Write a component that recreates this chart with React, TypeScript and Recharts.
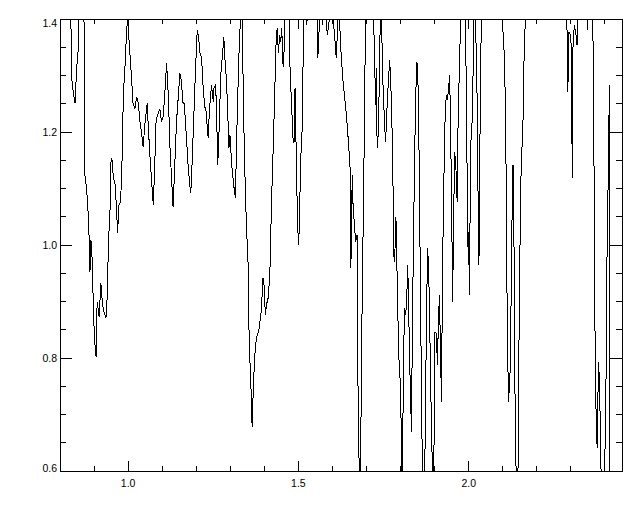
import React from 'react'
import { LineChart, Line, XAxis, YAxis, ReferenceArea } from 'recharts'

// spectrum (values above 1.4 / below 0.6 are clipped)
const wavelength = [
  0.800, 0.831, 0.834, 0.839, 0.844, 0.849, 0.854, 0.857, 0.870, 0.873, 0.878, 0.883, 0.886, 0.888, 0.890, 0.893, 0.895, 0.898, 0.901, 0.906,
  0.909, 0.915, 0.920, 0.925, 0.930, 0.935, 0.939, 0.942, 0.947, 0.950, 0.955, 0.956, 0.961, 0.966, 0.969, 0.973, 0.978, 0.982, 0.986, 0.991,
  0.996, 0.999, 1.003, 1.008, 1.011, 1.013, 1.020, 1.025, 1.030, 1.035, 1.040, 1.044, 1.049, 1.056, 1.059, 1.064, 1.069, 1.074, 1.079, 1.082,
  1.085, 1.089, 1.093, 1.098, 1.103, 1.108, 1.113, 1.118, 1.123, 1.128, 1.132, 1.137, 1.142, 1.147, 1.152, 1.157, 1.160, 1.164, 1.167, 1.172,
  1.176, 1.181, 1.184, 1.188, 1.193, 1.198, 1.203, 1.207, 1.211, 1.216, 1.218, 1.222, 1.225, 1.228, 1.232, 1.235, 1.238, 1.242, 1.245, 1.250,
  1.252, 1.257, 1.260, 1.263, 1.266, 1.269, 1.272, 1.277, 1.281, 1.284, 1.289, 1.293, 1.296, 1.299, 1.301, 1.305, 1.310, 1.315, 1.318, 1.322,
  1.326, 1.330, 1.331, 1.335, 1.338, 1.343, 1.347, 1.352, 1.355, 1.359, 1.362, 1.364, 1.367, 1.370, 1.374, 1.379, 1.383, 1.387, 1.389, 1.392,
  1.396, 1.399, 1.403, 1.406, 1.411, 1.416, 1.421, 1.426, 1.430, 1.435, 1.438, 1.441, 1.445, 1.448, 1.451, 1.455, 1.458, 1.460, 1.463, 1.472,
  1.474, 1.479, 1.484, 1.487, 1.490, 1.492, 1.494, 1.497, 1.500, 1.502, 1.504, 1.507, 1.512, 1.513, 1.516, 1.517, 1.523, 1.525, 1.527, 1.554,
  1.557, 1.560, 1.562, 1.565, 1.571, 1.574, 1.585, 1.590, 1.595, 1.606, 1.611, 1.616, 1.619, 1.623, 1.631, 1.641, 1.648, 1.653, 1.654, 1.656,
  1.658, 1.660, 1.665, 1.668, 1.672, 1.673, 1.676, 1.678, 1.680, 1.683, 1.685, 1.688, 1.692, 1.694, 1.697, 1.699, 1.718, 1.721, 1.724, 1.726,
  1.729, 1.730, 1.733, 1.735, 1.738, 1.740, 1.742, 1.748, 1.753, 1.756, 1.760, 1.764, 1.768, 1.771, 1.774, 1.777, 1.780, 1.783, 1.785, 1.787,
  1.790, 1.794, 1.797, 1.800, 1.803, 1.805, 1.807, 1.809, 1.812, 1.815, 1.818, 1.821, 1.824, 1.828, 1.832, 1.834, 1.838, 1.841, 1.844, 1.848,
  1.851, 1.854, 1.856, 1.859, 1.862, 1.865, 1.870, 1.875, 1.879, 1.882, 1.885, 1.888, 1.892, 1.895, 1.898, 1.901, 1.905, 1.908, 1.911, 1.914,
  1.917, 1.920, 1.922, 1.924, 1.927, 1.930, 1.934, 1.937, 1.940, 1.944, 1.947, 1.950, 1.953, 1.955, 1.959, 1.963, 1.966, 1.969, 1.973, 1.976,
  1.977, 1.989, 1.994, 1.996, 1.999, 2.000, 2.002, 2.004, 2.007, 2.010, 2.012, 2.014, 2.016, 2.018, 2.024, 2.028, 2.030, 2.032, 2.034, 2.037,
  2.038, 2.099, 2.100, 2.105, 2.108, 2.110, 2.112, 2.115, 2.117, 2.120, 2.123, 2.125, 2.128, 2.130, 2.133, 2.136, 2.139, 2.140, 2.144, 2.149,
  2.154, 2.159, 2.162, 2.166, 2.167, 2.287, 2.291, 2.294, 2.298, 2.301, 2.304, 2.306, 2.310, 2.315, 2.318, 2.320, 2.347, 2.349, 2.351, 2.362,
  2.366, 2.367, 2.369, 2.371, 2.374, 2.377, 2.381, 2.384, 2.387, 2.390, 2.398, 2.403, 2.406, 2.410, 2.413, 2.414, 2.450,
]

const flux = [
  1.450, 1.450, 1.296, 1.271, 1.251, 1.313, 1.349, 1.450, 1.450, 1.124, 1.101, 1.053, 1.005, 0.952, 1.009, 1.005, 0.952, 0.894, 0.835, 0.802,
  0.899, 0.873, 0.933, 0.894, 0.880, 0.871, 0.912, 1.000, 1.065, 1.154, 1.147, 1.119, 1.112, 1.065, 1.021, 1.071, 1.076, 1.147, 1.265, 1.319,
  1.384, 1.400, 1.359, 1.313, 1.289, 1.253, 1.242, 1.262, 1.251, 1.218, 1.195, 1.173, 1.212, 1.251, 1.212, 1.159, 1.112, 1.071, 1.159, 1.218,
  1.227, 1.234, 1.241, 1.218, 1.227, 1.271, 1.322, 1.265, 1.172, 1.112, 1.067, 1.142, 1.218, 1.260, 1.304, 1.289, 1.253, 1.251, 1.230, 1.182,
  1.142, 1.106, 1.092, 1.147, 1.230, 1.313, 1.381, 1.366, 1.340, 1.331, 1.301, 1.265, 1.244, 1.242, 1.212, 1.189, 1.230, 1.265, 1.283, 1.253,
  1.278, 1.283, 1.230, 1.142, 1.182, 1.242, 1.301, 1.336, 1.368, 1.331, 1.289, 1.225, 1.172, 1.195, 1.172, 1.136, 1.106, 1.083, 1.172, 1.265,
  1.349, 1.402, 1.450, 1.450, 1.260, 1.124, 1.041, 0.970, 0.846, 0.770, 0.729, 0.678, 0.735, 0.782, 0.823, 0.841, 0.846, 0.864, 0.871, 0.894,
  0.942, 0.929, 0.876, 0.894, 0.906, 0.947, 1.076, 1.172, 1.260, 1.372, 1.384, 1.340, 1.372, 1.359, 1.384, 1.315, 1.345, 1.398, 1.450, 1.450,
  1.336, 1.260, 1.189, 1.181, 1.278, 1.218, 1.142, 1.053, 1.000, 1.023, 1.076, 1.154, 1.218, 1.301, 1.395, 1.450, 1.450, 1.389, 1.450, 1.450,
  1.331, 1.372, 1.395, 1.450, 1.389, 1.450, 1.372, 1.395, 1.450, 1.372, 1.331, 1.395, 1.450, 1.359, 1.289, 1.230, 1.172, 1.124, 0.959, 1.041,
  1.124, 1.076, 1.030, 1.005, 1.018, 0.846, 0.699, 0.619, 0.550, 0.637, 0.788, 0.947, 1.112, 1.260, 1.377, 1.450, 1.450, 1.389, 1.331, 1.248,
  1.313, 1.200, 1.172, 1.230, 1.289, 1.395, 1.450, 1.289, 1.212, 1.182, 1.242, 1.289, 1.327, 1.289, 1.230, 1.142, 0.982, 0.970, 1.050, 1.041,
  0.935, 0.818, 0.770, 0.758, 0.598, 0.550, 0.699, 0.818, 0.888, 0.876, 0.906, 0.965, 0.876, 0.758, 0.669, 0.818, 1.023, 1.142, 1.260, 1.324,
  1.289, 1.172, 1.053, 0.876, 0.699, 0.550, 0.550, 0.818, 0.995, 0.965, 0.881, 0.758, 0.641, 0.550, 0.641, 0.846, 0.844, 0.788, 0.864, 0.912,
  0.818, 0.722, 0.876, 0.995, 1.112, 1.212, 1.265, 1.260, 1.271, 1.301, 1.200, 1.053, 0.899, 1.030, 1.165, 1.129, 1.076, 1.230, 1.319, 1.395,
  1.450, 1.450, 1.230, 1.053, 0.965, 1.023, 0.912, 1.053, 1.200, 1.218, 1.260, 1.395, 1.450, 1.450, 1.289, 1.053, 0.965, 1.112, 1.260, 1.402,
  1.450, 1.450, 1.384, 1.331, 1.230, 1.112, 0.935, 0.788, 0.722, 0.758, 0.796, 0.961, 1.080, 1.142, 0.995, 0.726, 0.602, 0.550, 0.550, 0.935,
  1.142, 1.207, 1.319, 1.398, 1.450, 1.450, 1.271, 1.377, 1.372, 1.354, 1.119, 1.349, 1.389, 1.372, 1.354, 1.450, 1.450, 1.381, 1.450, 1.450,
  1.327, 1.182, 1.080, 0.818, 0.699, 0.641, 0.793, 0.758, 0.651, 0.550, 0.550, 0.758, 0.977, 1.142, 1.283, 0.550, 0.550,
]

const xTicks = [0.9, 1.0, 1.1, 1.2, 1.3, 1.4, 1.5, 1.6, 1.7, 1.8, 1.9, 2.0, 2.1, 2.2, 2.3, 2.4]
const yTicks = [0.6, 0.65, 0.7, 0.75, 0.8, 0.85, 0.9, 0.95, 1.0, 1.05, 1.1, 1.15, 1.2, 1.25, 1.3, 1.35, 1.4]

const data = wavelength.map((w, i) => ({ w, f: flux[i] }))

const W = 640
const H = 512
const PLOT_TOP = 19
const PLOT_BOTTOM = 471
const PLOT_LEFT = 60
const PLOT_RIGHT = 622

const font = { fontFamily: '"Liberation Sans", Arial, sans-serif', fontSize: 10.5, fill: '#000' }

const isMultiple = (v: number, step: number) => Math.abs(v / step - Math.round(v / step)) < 1e-6

// IDL style: ticks point inward, mirrored on the opposite side
const XTick = (props: any) => {
  const { x, payload } = props
  const v = payload.value
  const major = isMultiple(v, 0.5)
  const len = major ? 10 : 5
  return (
    <g>
      <line x1={x} x2={x} y1={PLOT_BOTTOM} y2={PLOT_BOTTOM - len} stroke="#000" shapeRendering="crispEdges" />
      <line x1={x} x2={x} y1={PLOT_TOP} y2={PLOT_TOP + len} stroke="#000" shapeRendering="crispEdges" />
      {major && (
        <text x={x} y={487} textAnchor="middle" {...font}>
          {v.toFixed(1)}
        </text>
      )}
    </g>
  )
}

const YTick = (props: any) => {
  const { y, payload } = props
  const v = payload.value
  const major = isMultiple(v, 0.2)
  const len = major ? 12 : 6
  const base = Math.min(Math.max(y + 3.5, PLOT_TOP + 8), PLOT_BOTTOM + 0.5)
  return (
    <g>
      <line x1={PLOT_LEFT} x2={PLOT_LEFT + len} y1={y} y2={y} stroke="#000" shapeRendering="crispEdges" />
      <line x1={PLOT_RIGHT} x2={PLOT_RIGHT - len} y1={y} y2={y} stroke="#000" shapeRendering="crispEdges" />
      {major && (
        <text x={57} y={base} textAnchor="end" {...font}>
          {v.toFixed(1)}
        </text>
      )}
    </g>
  )
}

export default function App() {
  return (
    <div style={{ position: 'absolute', left: 0, top: 0, width: W, height: H, background: '#fff' }}>
      <LineChart
        width={W}
        height={H}
        data={data}
        margin={{ top: PLOT_TOP, right: W - PLOT_RIGHT, bottom: 0, left: 0 }}
      >
        <XAxis
          dataKey="w"
          type="number"
          domain={[0.8, 2.45]}
          allowDataOverflow
          ticks={xTicks}
          interval={0}
          tick={XTick}
          tickLine={false}
          axisLine={false}
          height={H - PLOT_BOTTOM}
        />
        <YAxis
          type="number"
          domain={[0.6, 1.4]}
          allowDataOverflow
          ticks={yTicks}
          interval={0}
          tick={YTick}
          tickLine={false}
          axisLine={false}
          width={PLOT_LEFT}
        />
        <ReferenceArea x1={0.8} x2={2.45} y1={0.6} y2={1.4} fill="none" stroke="#000" strokeWidth={1} shapeRendering="crispEdges" />
        <Line
          type="linear"
          dataKey="f"
          stroke="#000"
          strokeWidth={1}
          dot={false}
          activeDot={false}
          shapeRendering="crispEdges"
          isAnimationActive={false}
        />
      </LineChart>
    </div>
  )
}
